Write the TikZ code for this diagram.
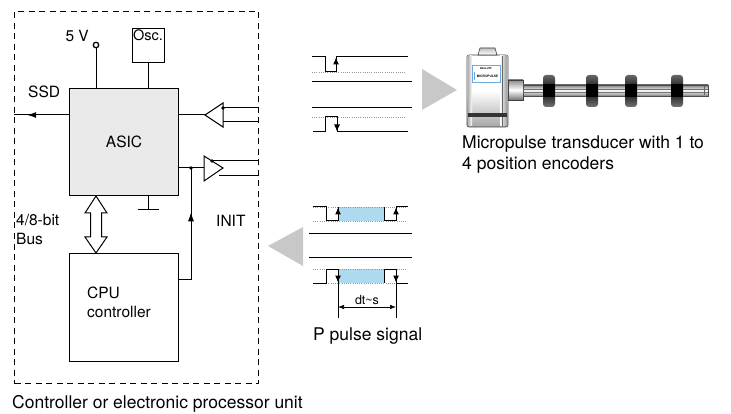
\documentclass[tikz,border=0pt]{standalone}
\usepackage{fontspec}
\setmainfont{TeX Gyre Heros}
\usetikzlibrary{arrows.meta}
\usetikzlibrary{decorations.markings}

\definecolor{asicgray}{RGB}{234,234,234}
\definecolor{pulseblue}{RGB}{174,218,240}
\definecolor{flowgray}{RGB}{200,200,200}
\definecolor{labelblue}{RGB}{110,170,225}

\tikzset{
  block/.style={draw, line width=1pt, inner sep=0pt, anchor=north west},
  wire/.style={line width=1pt},
  joint/.style={circle, fill, inner sep=0pt, minimum size=3.8pt},
  lvl/.style={draw=black!40, line width=0.7pt, dash pattern=on 0.8pt off 1.4pt},
  sig/.style={line width=1pt},
  sigtip/.style={line width=1pt, -{Latex[length=7pt,width=6pt]}},
  flow/.style={fill=flowgray, draw=none},
  midtip/.style={postaction={decorate}, decoration={markings, mark=at position #1 with {\arrow{Latex[length=9pt,width=6pt]}}}},
  lbl/.style={font=\fontsize{15.5}{18.5}\selectfont, inner sep=0pt},
  captxt/.style={font=\fontsize{17.5}{21}\selectfont, inner sep=0pt, align=left},
}

\begin{document}
\begin{tikzpicture}[x=1pt,y=-1pt]
\useasboundingbox (0,0) rectangle (731,414);

% controller unit
\node[block, dash pattern=on 6pt off 4.5pt] [minimum width=244pt, minimum height=372pt] (unit) at (14,11) {};
\node[block, fill=asicgray, minimum width=109pt, minimum height=107pt] (asic) at (69,88) {};
\node[lbl] (asiclabel) at (asic.center) {ASIC};
\node[block, minimum width=32pt, minimum height=34pt] (osc) at (132,28) {};
\node[lbl, font=\fontsize{14.5}{17}\selectfont, anchor=north west] (osclabel) at ([xshift=1pt,yshift=-1.5pt]osc.north west) {Osc.};
\node[block, minimum width=109pt, minimum height=108pt] (cpu) at (69,253) {};
\node[lbl, anchor=north west, align=left] (cpulabel) at (87,287) {CPU\\controller};

% supply and clock
\node[circle, draw, line width=1.3pt, inner sep=0pt, minimum size=5.5pt] (vcc) at (96,45) {};
\node[lbl, anchor=base east] (vcclabel) at (89,42) {5 V};
\draw[wire] (vcc) -- (vcc |- asic.north);
\draw[wire] (osc) -- (osc |- asic.north);

% ground
\coordinate (gnd) at (osc |- 0,210);
\draw[wire] (osc |- asic.south) -- (gnd);
\draw[wire] ([xshift=-10.5pt]gnd) -- ([xshift=10.5pt]gnd);

% SSD output
\coordinate (ssd) at (unit.west |- 0,115);
\draw[wire, midtip=0.76] (asic.west |- ssd) -- (ssd);
\node[lbl, anchor=base west] (ssdlabel) at (28,98) {SSD};

% receiver
\coordinate (rxtip) at (205,115);
\draw[wire] (asic.east |- rxtip) -- (rxtip);
\draw[wire, fill=white] (rxtip) -- (223,103) -- (223,127) -- cycle;
\node[joint] (rxa) at (223,108) {};
\coordinate (rxb) at (223,122);
\draw[wire] (rxa.center) -- (unit.east |- rxa);
\draw[wire] (rxb) -- (unit.east |- rxb);

% driver
\coordinate (txin) at (204,168);
\node[joint] (init) at (191,168) {};
\draw[wire] (asic.east |- txin) -- (txin);
\draw[wire, fill=white] (204,156) -- (223,168) -- (204,181) -- cycle;
\node[joint] (txa) at (212,161) {};
\coordinate (txb) at (219,176);
\draw[wire] (txa.center) -- (unit.east |- txa);
\draw[wire] (txb) -- (unit.east |- txb);

% INIT line
\coordinate (cpuout) at (cpu.east |- 0,279);
\draw[wire, midtip=0.64] (cpuout) -- (init |- cpuout) -- (init.center);
\node[lbl, anchor=base west] (initlabel) at (216,226) {INIT};

% data bus
\coordinate (bt) at (vcc |- asic.south);
\coordinate (bb) at (vcc |- cpu.north);
\draw[wire, fill=white] (bt) -- ++(11,17) -- ++(-5.5,0) -- ([shift={(5.5,-16)}]bb) -- ++(5.5,0)
  -- (bb) -- ++(-11,-16) -- ++(5.5,0) -- ([shift={(-5.5,17)}]bt) -- ++(-5.5,0) -- cycle;
\node[lbl, anchor=north west, align=left] (buslabel) at (16,214.5) {4/8-bit\\Bus};

\node[captxt, anchor=base west] (unitlabel) at (12,408) {Controller or electronic processor unit};

% pulses to the transducer
\draw[lvl] (312,72) -- (405,72);
\draw[sig] (312,57) -- (325,57) -- (325,72) -- (336,72) -- (336,57) -- (408,57);
\draw[sigtip] (336,70) -- (336,57.5);
\draw[sig] (312,82) -- (412,82);
\draw[sig] (312,108) -- (412,108);
\draw[lvl] (312,117) -- (405,117);
\draw[sig] (313,132) -- (325,132) -- (325,117) -- (337,117) -- (337,132) -- (408,132);
\draw[sigtip] (337,119) -- (337,131.5);
\fill[flow] (422,69) -- (457,90) -- (422,110) -- cycle;	% to transducer

% returned pulses
\fill[flow] (303,227) -- (268,246) -- (303,266) -- cycle;	% back to unit
\fill[pulseblue] (338,207) rectangle (384,221);
\fill[pulseblue] (338,269) rectangle (384,283);
\foreach \y in {207,221,269,283} \draw[lvl] (313,\y) -- (406,\y);
\draw[sig] (313,207) -- (326,207) -- (326,221) -- (338,221) -- (338,207);
\draw[sig] (384,207) -- (384,221) -- (396,221) -- (396,207) -- (408,207);
\foreach \x in {338,396} \draw[sigtip] (\x,219) -- (\x,207.5);
\draw[sig] (309,234) -- (412,234);
\draw[sig] (309,258) -- (412,258);
\draw[sig] (313,283) -- (326,283) -- (326,269) -- (338,269) -- (338,283);
\draw[sig] (384,283) -- (384,269) -- (396,269) -- (396,283) -- (408,283);
\foreach \x in {338,396} \draw[sigtip] (\x,271) -- (\x,282.5);

% time difference
\coordinate (dta) at (338,318);
\coordinate (dtb) at (396,318);
\draw[line width=0.6pt] (338,283) -- (dta);
\draw[line width=0.6pt] (396,283) -- (dtb);
\draw[line width=0.6pt, {Latex[length=6pt,width=4.5pt]}-{Latex[length=6pt,width=4.5pt]}] ([yshift=11pt]dta) -- ([yshift=11pt]dtb);
\node[font=\fontsize{12.5}{14}\selectfont, inner sep=0pt, anchor=base] (dtlabel) at (367,304) {dt\textasciitilde s};
\node[captxt, anchor=base west] (pulselabel) at (313,340) {P pulse signal};

% transducer housing
\shadedraw[top color=white, bottom color=black!35, middle color=white, draw=black!75, line width=0.6pt, rounded corners=2pt] (467,55) rectangle (508,127);
\shade[left color=black!30, right color=white] (468,56) rectangle (472,126);
\shade[left color=white, right color=black!40] (500,56) rectangle (507,126);
\draw[black!60, line width=0.5pt] (502,56) -- (502,126);
\fill[black!80] (468,113) rectangle (507,117);
\shadedraw[top color=black!25, bottom color=white, draw=black!75, line width=0.6pt] (478,55) -- (480,48) -- (495,48) -- (497,55) -- cycle;
\draw[labelblue, line width=0.6pt] (472,65) rectangle (500,82);
\fill[labelblue] (474,72) rectangle (475.2,80);
\node[font=\fontsize{2.6}{3}\selectfont\bfseries, inner sep=0pt] (brand) at (486,69) {BALLUFF};
\node[font=\fontsize{3.2}{4}\selectfont\bfseries, inner sep=0pt] (model) at (487.5,76) {MICROPULSE};

% rod with position encoders
\shadedraw[top color=black!45, bottom color=black!55, middle color=white, draw=black!75, line width=0.6pt] (508,80) rectangle (523,100);
\shadedraw[top color=black!50, bottom color=black!50, middle color=white, draw=black!70, line width=0.5pt] (523,85) rectangle (708,96);
\draw[black!55, line width=0.4pt] (523,89) -- (708,89);
\draw[black!55, line width=0.4pt] (523,92.5) -- (708,92.5);
\draw[black!60, line width=0.4pt] (704,86) -- (704,95);
\foreach \m in {549,592,631,677} {
  \shade[top color=black!60, bottom color=black!55, middle color=black!95, rounded corners=3pt] (\m-6,75) rectangle (\m+6,107);
  \fill[black] (\m-6,84) rectangle (\m+6,97);
}
\node[captxt, anchor=north west] (transducerlabel) at (462,136) {Micropulse transducer with 1 to\\4 position encoders};
\end{tikzpicture}
\end{document}
